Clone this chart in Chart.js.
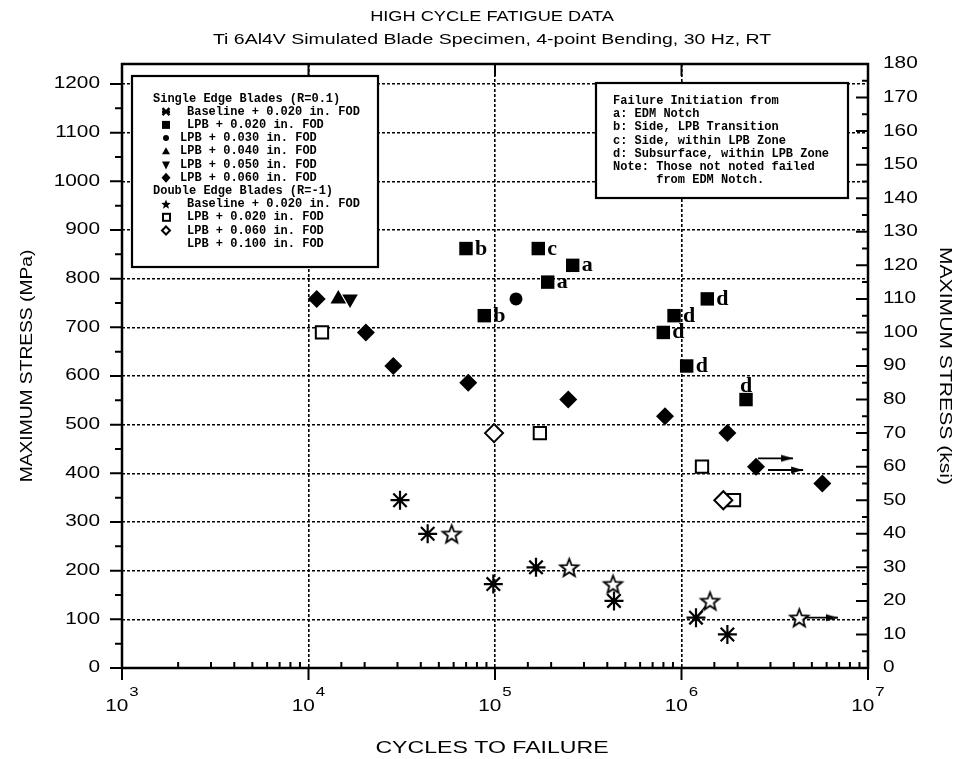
<!DOCTYPE html>
<html>
<head>
<meta charset="utf-8">
<script src="https://cdn.jsdelivr.net/npm/chart.js"></script>
<style>
  html, body { margin: 0; padding: 0; background: #fff; }
  canvas { display: block; }
</style>
</head>
<body>
<canvas id="fatigue" width="959" height="759"></canvas>
<script>
// Cycles to failure and maximum stress (ksi) per specimen group
const baseSingleCycles = [30950, 43550, 97950, 165900, 434600, 1196000, 1762000];
const baseSingleKsi    = [50, 40, 25, 30, 20, 15, 10];

const lpb020Cycles = [69900, 170600, 261000, 191700, 87600, 1375000, 912000, 799000, 1066000, 2218000];
const lpb020Ksi    = [125, 125, 120, 115, 105, 110, 105, 100, 90, 80];
const lpb020Origin = ['b', 'c', 'a', 'a', 'b', 'd', 'd', 'd', 'd', 'd'];

const lpb030Cycles = [129600];
const lpb030Ksi    = [110];
const lpb040Cycles = [14450];
const lpb040Ksi    = [110];
const lpb050Cycles = [16700];
const lpb050Ksi    = [110];

const lpb060Cycles = [11060, 20300, 28500, 71900, 247000, 816000, 1762000, 2509000, 5690000];
const lpb060Ksi    = [110, 100, 90, 85, 80, 75, 70, 60, 55];

const dblBaseCycles = [58600, 250000, 429300, 1422000, 4282000];
const dblBaseKsi    = [40, 30, 25, 20, 15];
const dbl020Cycles  = [11810, 174000, 1288000, 1912000];
const dbl020Ksi     = [100, 70, 60, 50];
const dbl060Cycles  = [98800, 1676000];
const dbl060Ksi     = [70, 50];

// Run-out arrows: start cycles, end cycles, stress level
const runoutFrom = [2570000, 2911000, 4592000];
const runoutTo   = [3963000, 4488000, 6903000];
const runoutKsi  = [62.5, 59, 15];

// Tick label sets
const cycleExponents = [3, 4, 5, 6, 7];
const mpaPerKsi = 6.894757;
const ksiTop = 180;

const legendSingle = [
  ['cross', 'Baseline + 0.020 in. FOD'],
  ['square', 'LPB + 0.020 in. FOD'],
  ['dot', 'LPB + 0.030 in. FOD'],
  ['up', 'LPB + 0.040 in. FOD'],
  ['down', 'LPB + 0.050 in. FOD'],
  ['diamond', 'LPB + 0.060 in. FOD']
];
const legendDouble = [
  ['star', 'Baseline + 0.020 in. FOD'],
  ['openSquare', 'LPB + 0.020 in. FOD'],
  ['openDiamond', 'LPB + 0.060 in. FOD'],
  ['none', 'LPB + 0.100 in. FOD']
];
const originNotes = [
  'Failure Initiation from',
  'a: EDM Notch',
  'b: Side, LPB Transition',
  'c: Side, within LPB Zone',
  'd: Subsurface, within LPB Zone',
  'Note: Those not noted failed',
  '      from EDM Notch.'
];

const pts = (xs, ys) => xs.map((v, i) => ({ x: v, y: ys[i] }));

// Open five-point star marker
function makeStar(outer, inner, lw, filled) {
  const size = Math.ceil(outer * 2 + lw * 2 + 2);
  const c = document.createElement('canvas');
  c.width = size; c.height = size;
  const g = c.getContext('2d');
  g.translate(size / 2, size / 2 + outer * 0.1);
  g.beginPath();
  for (let i = 0; i < 10; i++) {
    const r = i % 2 ? inner : outer;
    const a = -Math.PI / 2 + i * Math.PI / 5;
    g.lineTo(r * Math.cos(a), r * Math.sin(a));
  }
  g.closePath();
  g.fillStyle = filled ? '#000' : '#fff';
  g.fill();
  g.lineWidth = lw; g.strokeStyle = '#000'; g.lineJoin = 'miter';
  g.stroke();
  return c;
}

// Arrow head whose tip sits at the canvas centre
function makeArrowHead(len, half) {
  const c = document.createElement('canvas');
  c.width = Math.ceil(len * 2) + 2; c.height = Math.ceil(half * 2) + 2;
  const g = c.getContext('2d');
  const cx = c.width / 2, cy = c.height / 2;
  g.beginPath();
  g.moveTo(cx, cy); g.lineTo(cx - len, cy - half); g.lineTo(cx - len, cy + half);
  g.closePath(); g.fillStyle = '#000'; g.fill();
  return c;
}

const starMarker = makeStar(9.5, 4, 1.8, false);
const arrowHead = makeArrowHead(12, 3.6);

const SANS = '"Liberation Sans", Arial, sans-serif';
const MONO = '"Liberation Mono", "Courier New", monospace';
const SERIF = '"Liberation Serif", "Times New Roman", serif';
const TEXT_SX = 1.3;

function wideText(ctx, str, x, y, font, align, sx, rot) {
  ctx.save();
  ctx.translate(x, y);
  if (rot) ctx.rotate(rot);
  ctx.scale(sx, 1);
  ctx.font = font;
  ctx.textAlign = align;
  ctx.textBaseline = 'middle';
  ctx.fillText(str, 0, 0);
  ctx.restore();
}

function legendSymbol(ctx, kind, x, y) {
  ctx.save();
  ctx.fillStyle = '#000'; ctx.strokeStyle = '#000';
  ctx.beginPath();
  switch (kind) {
    case 'cross':
      ctx.lineWidth = 2.4;
      ctx.moveTo(x - 3.5, y - 3.5); ctx.lineTo(x + 3.5, y + 3.5);
      ctx.moveTo(x + 3.5, y - 3.5); ctx.lineTo(x - 3.5, y + 3.5);
      ctx.moveTo(x - 4, y); ctx.lineTo(x + 4, y);
      ctx.stroke(); break;
    case 'square': ctx.fillRect(x - 4, y - 4, 8, 8); break;
    case 'dot': ctx.arc(x, y, 3, 0, Math.PI * 2); ctx.fill(); break;
    case 'up': ctx.moveTo(x, y - 4); ctx.lineTo(x + 4, y + 3); ctx.lineTo(x - 4, y + 3); ctx.fill(); break;
    case 'down': ctx.moveTo(x, y + 5); ctx.lineTo(x + 4, y - 3); ctx.lineTo(x - 4, y - 3); ctx.fill(); break;
    case 'diamond': ctx.moveTo(x, y - 5); ctx.lineTo(x + 4.5, y); ctx.lineTo(x, y + 5); ctx.lineTo(x - 4.5, y); ctx.fill(); break;
    case 'star':
      for (let i = 0; i < 10; i++) {
        const r = i % 2 ? 2.2 : 5;
        const a = -Math.PI / 2 + i * Math.PI / 5;
        ctx.lineTo(x + r * Math.cos(a), y + 0.5 + r * Math.sin(a));
      }
      ctx.closePath(); ctx.fill(); break;
    case 'openSquare': ctx.lineWidth = 2; ctx.strokeRect(x - 3, y - 3.5, 7, 7); break;
    case 'openDiamond':
      ctx.lineWidth = 2;
      ctx.moveTo(x, y - 4); ctx.lineTo(x + 4, y); ctx.lineTo(x, y + 4); ctx.lineTo(x - 4, y); ctx.closePath();
      ctx.stroke(); break;
  }
  ctx.restore();
}

function box(ctx, l, t, r, b) {
  ctx.save();
  ctx.fillStyle = '#fff';
  ctx.fillRect(l, t, r - l, b - t);
  ctx.lineWidth = 2.2; ctx.strokeStyle = '#000';
  ctx.strokeRect(l, t, r - l, b - t);
  ctx.restore();
}

// Failure-origin letters beside the LPB + 0.020 squares
const originLetters = {
  id: 'originLetters',
  afterDatasetsDraw(chart) {
    const meta = chart.getDatasetMeta(1);
    const ctx = chart.ctx;
    ctx.save();
    ctx.fillStyle = '#000';
    ctx.font = 'bold 22px ' + SERIF;
    ctx.textBaseline = 'alphabetic';
    meta.data.forEach((el, i) => {
      const above = i === lpb020Origin.length - 1;
      ctx.textAlign = above ? 'center' : 'left';
      if (above) ctx.fillText(lpb020Origin[i], el.x, el.y - 8);
      else ctx.fillText(lpb020Origin[i], el.x + 9, el.y + 6);
    });
    ctx.restore();
  }
};

// Frame, tick marks, tick labels, titles and the two key boxes
const frameAndText = {
  id: 'frameAndText',
  afterDraw(chart) {
    const { ctx, chartArea: a, scales } = chart;
    const sx = scales.x, yl = scales.yMPa, yr = scales.yKsi;
    ctx.save();

    // key boxes
    box(ctx, 132, 76, 378, 267);
    box(ctx, 596, 83, 848, 198);
    ctx.fillStyle = '#000';
    ctx.font = 'bold 12px ' + MONO;
    ctx.textBaseline = 'middle';
    ctx.textAlign = 'left';
    const step = 13.2;
    let row = 0;
    const y0 = 98.5;
    ctx.fillText('Single Edge Blades (R=0.1)', 153, y0);
    legendSingle.forEach(([k, t]) => {
      row++;
      const y = y0 + row * step;
      legendSymbol(ctx, k, 166, y);
      ctx.fillStyle = '#000';
      ctx.fillText(t, (k === 'cross' || k === 'square') ? 187 : 180, y);
    });
    row++;
    ctx.fillText('Double Edge Blades (R=-1)', 153, y0 + row * step);
    legendDouble.forEach(([k, t]) => {
      row++;
      const y = y0 + row * step;
      legendSymbol(ctx, k, 166, y);
      ctx.fillStyle = '#000';
      ctx.fillText(t, 187, y);
    });
    originNotes.forEach((t, i) => ctx.fillText(t, 613, 101 + i * step));

    // tick marks
    ctx.strokeStyle = '#000';
    ctx.lineWidth = 2;
    ctx.beginPath();
    sx.ticks.forEach(t => {
      const px = sx.getPixelForValue(t.value);
      if (t.major) {
        ctx.moveTo(px, a.bottom); ctx.lineTo(px, a.bottom + 12);
        ctx.moveTo(px, a.top); ctx.lineTo(px, a.top + 12);
      } else {
        ctx.moveTo(px, a.bottom); ctx.lineTo(px, a.bottom - 6);
      }
    });
    const lStep = yl.options.ticks.stepSize;
    yl.ticks.forEach(t => {
      const py = yl.getPixelForValue(t.value);
      ctx.moveTo(a.left, py); ctx.lineTo(a.left - 12, py);
      const half = t.value + lStep / 2;
      if (half < yl.max) {
        const ph = yl.getPixelForValue(half);
        ctx.moveTo(a.left, ph); ctx.lineTo(a.left - 7, ph);
      }
    });
    const rStep = yr.options.ticks.stepSize;
    yr.ticks.forEach(t => {
      const py = yr.getPixelForValue(t.value);
      ctx.moveTo(a.right, py); ctx.lineTo(a.right - 12, py);
      const half = t.value + rStep / 2;
      if (half < yr.max) {
        const ph = yr.getPixelForValue(half);
        ctx.moveTo(a.right, ph); ctx.lineTo(a.right - 6, ph);
      }
    });
    ctx.stroke();

    // frame
    ctx.lineWidth = 2.5;
    ctx.strokeRect(a.left, a.top, a.right - a.left, a.bottom - a.top);

    // tick labels
    ctx.fillStyle = '#000';
    const tickFont = '16px ' + SANS;
    yl.ticks.forEach(t => wideText(ctx, String(t.value), 100, yl.getPixelForValue(t.value), tickFont, 'right', TEXT_SX));
    yr.ticks.forEach(t => wideText(ctx, String(t.value), 883, yr.getPixelForValue(t.value), tickFont, 'left', TEXT_SX));
    const supFont = '13px ' + SANS;
    cycleExponents.forEach(e => {
      const px = sx.getPixelForValue(Math.pow(10, e));
      ctx.font = tickFont;
      const wBase = ctx.measureText('10').width * TEXT_SX;
      ctx.font = supFont;
      const wSup = ctx.measureText(String(e)).width * TEXT_SX;
      const left = px - (wBase + 1 + wSup) / 2;
      wideText(ctx, '10', left, 707, tickFont, 'left', TEXT_SX);
      wideText(ctx, String(e), left + wBase + 1, 692, supFont, 'left', TEXT_SX);
    });

    // titles
    const cx = (a.left + a.right) / 2 - 3;
    wideText(ctx, 'HIGH CYCLE FATIGUE DATA', cx, 17, '14px ' + SANS, 'center', TEXT_SX);
    wideText(ctx, 'Ti 6Al4V Simulated Blade Specimen, 4-point Bending, 30 Hz, RT', cx, 40, '15px ' + SANS, 'center', TEXT_SX);
    wideText(ctx, 'CYCLES TO FAILURE', cx, 748, '16.5px ' + SANS, 'center', 1.4);
    const cy = (a.top + a.bottom) / 2;
    wideText(ctx, 'MAXIMUM STRESS (MPa)', 28, cy, '16px ' + SANS, 'center', 1.2, -Math.PI / 2);
    wideText(ctx, 'MAXIMUM STRESS (ksi)', 944, cy, '16px ' + SANS, 'center', 1.32, Math.PI / 2);
    ctx.restore();
  }
};

const black = '#000';
const runoutSets = runoutFrom.map((from, i) => ({
  data: [{ x: from, y: runoutKsi[i] }, { x: runoutTo[i], y: runoutKsi[i] }],
  showLine: true, borderColor: black, borderWidth: 1.8,
  pointStyle: arrowHead, pointRadius: [0, 6], yAxisID: 'yKsi', order: 0
}));

new Chart(document.getElementById('fatigue'), {
  type: 'scatter',
  data: {
    datasets: [
      { label: 'Baseline + 0.020 in. FOD (R=0.1)', data: pts(baseSingleCycles, baseSingleKsi), yAxisID: 'yKsi',
        pointStyle: 'star', pointRadius: 9.5, borderColor: black, borderWidth: 2.2, backgroundColor: 'transparent', order: 2 },
      { label: 'LPB + 0.020 in. FOD (R=0.1)', data: pts(lpb020Cycles, lpb020Ksi), yAxisID: 'yKsi',
        pointStyle: 'rect', pointRadius: 9.5, backgroundColor: black, borderWidth: 0, order: 2 },
      { label: 'LPB + 0.030 in. FOD', data: pts(lpb030Cycles, lpb030Ksi), yAxisID: 'yKsi',
        pointStyle: 'circle', pointRadius: 6.5, backgroundColor: black, borderWidth: 0, order: 2 },
      { label: 'LPB + 0.040 in. FOD', data: pts(lpb040Cycles, lpb040Ksi), yAxisID: 'yKsi',
        pointStyle: 'triangle', pointRadius: 9, backgroundColor: black, borderWidth: 0, order: 2 },
      { label: 'LPB + 0.050 in. FOD', data: pts(lpb050Cycles, lpb050Ksi), yAxisID: 'yKsi',
        pointStyle: 'triangle', rotation: 180, pointRadius: 9, backgroundColor: black, borderWidth: 0, order: 2 },
      { label: 'LPB + 0.060 in. FOD (R=0.1)', data: pts(lpb060Cycles, lpb060Ksi), yAxisID: 'yKsi',
        pointStyle: 'rectRot', pointRadius: 9, backgroundColor: black, borderWidth: 0, order: 2 },
      { label: 'Baseline + 0.020 in. FOD (R=-1)', data: pts(dblBaseCycles, dblBaseKsi), yAxisID: 'yKsi',
        pointStyle: starMarker, pointRadius: 8, order: 1 },
      { label: 'LPB + 0.060 in. FOD (R=-1)', data: pts(dbl060Cycles, dbl060Ksi), yAxisID: 'yKsi',
        pointStyle: 'rectRot', pointRadius: 9, backgroundColor: '#fff', borderColor: black, borderWidth: 2, order: 2 },
      { label: 'LPB + 0.020 in. FOD (R=-1)', data: pts(dbl020Cycles, dbl020Ksi), yAxisID: 'yKsi',
        pointStyle: 'rect', pointRadius: 8.7, backgroundColor: '#fff', borderColor: black, borderWidth: 2, order: 3 },
      { label: 'pair', data: [{ x: baseSingleCycles[5], y: baseSingleKsi[5] }, { x: dblBaseCycles[3], y: dblBaseKsi[3] }],
        yAxisID: 'yKsi', showLine: true, borderColor: black, borderWidth: 1.4, pointRadius: 0, order: 4 },
      ...runoutSets
    ]
  },
  options: {
    responsive: false,
    animation: false,
    devicePixelRatio: 1,
    layout: { padding: { left: 122, right: 91, top: 64, bottom: 91 } },
    plugins: { legend: { display: false }, tooltip: { enabled: false }, title: { display: false } },
    scales: {
      x: {
        type: 'logarithmic', min: 1e3, max: 1e7,
        ticks: { display: false },
        grid: { color: c => (c.tick && c.tick.major) ? black : 'rgba(0,0,0,0)', lineWidth: 1.6, drawTicks: false, borderDash: [3, 2] },
        border: { display: false, dash: [3, 2] },
        afterFit: s => { s.height = 0; }
      },
      yMPa: {
        position: 'left', min: 0, max: ksiTop * mpaPerKsi,
        ticks: { display: false, stepSize: 100, includeBounds: false },
        grid: { color: black, lineWidth: 1.6, drawTicks: false, borderDash: [3, 2] },
        border: { display: false, dash: [3, 2] },
        afterFit: s => { s.width = 0; }
      },
      yKsi: {
        position: 'right', min: 0, max: ksiTop,
        ticks: { display: false, stepSize: 10 },
        grid: { drawOnChartArea: false, drawTicks: false },
        border: { display: false },
        afterFit: s => { s.width = 0; }
      }
    }
  },
  plugins: [originLetters, frameAndText]
});
</script>
</body>
</html>
